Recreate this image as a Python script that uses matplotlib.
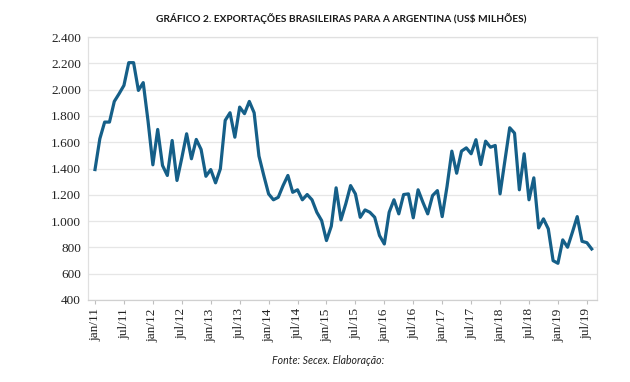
#!/usr/bin/env python3

import matplotlib
matplotlib.use("Agg")
import matplotlib.pyplot as plt
from matplotlib.ticker import FuncFormatter

# monthly exports, jan/2011 .. aug/2019 (US$ millions)
values_2011 = [1392, 1626, 1753, 1753, 1910, 1969, 2032, 2205, 2205, 1994, 2053, 1760]
values_2012 = [1428, 1697, 1423, 1347, 1613, 1309, 1480, 1664, 1474, 1621, 1545, 1341]
values_2013 = [1392, 1291, 1398, 1766, 1824, 1638, 1867, 1817, 1910, 1824, 1495, 1347]
values_2014 = [1207, 1162, 1181, 1270, 1347, 1219, 1238, 1162, 1202, 1162, 1067, 1004]
values_2015 = [852, 961, 1253, 1009, 1131, 1270, 1207, 1029, 1085, 1067, 1029, 890]
values_2016 = [826, 1067, 1162, 1055, 1202, 1207, 1025, 1238, 1143, 1055, 1194, 1232]
values_2017 = [1034, 1263, 1532, 1364, 1532, 1557, 1512, 1619, 1430, 1608, 1562, 1575]
values_2018 = [1207, 1459, 1710, 1669, 1238, 1512, 1162, 1329, 948, 1017, 941, 699]
values_2019 = [679, 857, 801, 915, 1034, 846, 836, 788]

tick_labels = ["jan/11", "jul/11", "jan/12", "jul/12", "jan/13", "jul/13",
               "jan/14", "jul/14", "jan/15", "jul/15", "jan/16", "jul/16",
               "jan/17", "jul/17", "jan/18", "jul/18", "jan/19", "jul/19"]

values = (values_2011 + values_2012 + values_2013 + values_2014 + values_2015
          + values_2016 + values_2017 + values_2018 + values_2019)
x = list(range(len(values)))

fig = plt.figure(figsize=(6.3, 3.82), dpi=100)
ax = fig.add_axes([0.1397, 0.2147, 0.8079, 0.6884])

ax.plot(x, values, color="#155f88", linewidth=2.3, solid_joinstyle="round")

ax.set_ylim(400, 2400)
ax.set_yticks(range(400, 2401, 200))
ax.yaxis.set_major_formatter(FuncFormatter(lambda v, p: f"{int(v):,}".replace(",", ".")))
ax.set_xlim(-1.45, 104.1)
ax.set_xticks(range(0, len(values), 6))
ax.set_xticklabels(tick_labels, rotation=90)

ax.grid(axis="y", color="#e6e6e6", linewidth=0.9)
ax.set_axisbelow(True)
for s in ax.spines.values():
    s.set_color("#e0e0e0")
    s.set_linewidth(0.9)
ax.spines["bottom"].set_color("#d0d0d0")

ax.tick_params(axis="y", length=0, pad=5)
ax.tick_params(axis="x", length=3, color="#bfbfbf", pad=3)
for lab in ax.get_yticklabels() + ax.get_xticklabels():
    lab.set_fontfamily("Liberation Serif")
    lab.set_fontsize(9.5)
    lab.set_color("#222222")

fig.text(0.541, 0.952, "GRÁFICO 2. EXPORTAÇÕES BRASILEIRAS PARA A ARGENTINA (US$ MILHÕES)",
         ha="center", va="center", fontsize=7.3, fontweight="bold",
         family="Lato", color="#1a1a1a")
fig.text(0.521, 0.057, "Fonte: Secex. Elaboração:", ha="center", va="center",
         fontsize=7.6, style="italic", family="Lato", color="#222222")

plt.savefig("out.png", dpi=100)
